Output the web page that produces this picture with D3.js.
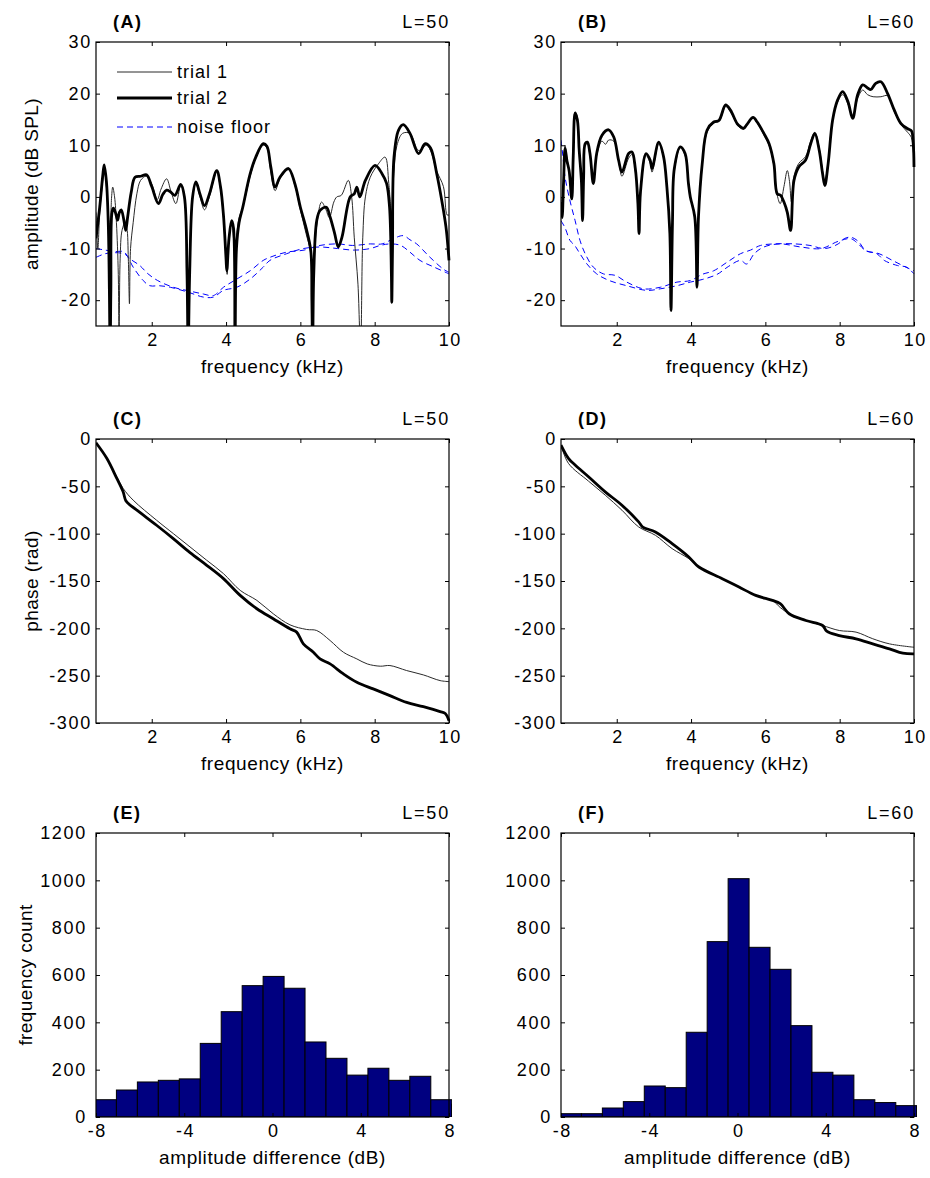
<!DOCTYPE html>
<html><head><meta charset="utf-8">
<script src="https://cdn.jsdelivr.net/npm/d3@7"></script>
<style>body{margin:0;background:#fff} text{font-family:"Liberation Sans",Arial,sans-serif;fill:#000}</style>
</head><body><svg id="c" width="930" height="1178"></svg>
<script>
// ---------- DATA ----------
const freqTicks = [2,4,6,8,10];
const ampTicks = [-20,-10,0,10,20,30];
const phaseTicks = [-300,-250,-200,-150,-100,-50,0];
const diffTicks = [-8,-4,0,4,8];
const countTicks = [0,200,400,600,800,1000,1200];
const legendLabels = ["trial 1","trial 2","noise floor"];

// Panel A (L=50) amplitude [kHz, dB SPL]
const ampA_trial1 = [[0.5,-3],[0.55,-10],[0.6,-3],[0.68,3],[0.72,5.5],[0.78,2],[0.83,-3],[0.88,-6],[0.92,0],[0.95,1.9],[1.0,0],[1.05,-5],[1.1,-15],[1.12,-30],[1.15,-12],[1.2,-6.5],[1.28,-5],[1.33,-6],[1.37,-12],[1.4,-20.7],[1.43,-10],[1.5,-5],[1.6,0.6],[1.7,3.2],[1.85,4],[2.0,2.5],[2.15,-0.5],[2.25,1.5],[2.4,3.5],[2.52,1],[2.65,-1.3],[2.78,2.2],[2.88,0],[2.95,-15],[2.98,-30],[3.02,-15],[3.1,0],[3.19,2.5],[3.3,0],[3.42,-2.5],[3.55,0],[3.75,4.8],[3.85,1.5],[3.93,-4],[4.0,-12],[4.03,-15],[4.08,-8],[4.15,-5],[4.2,-8],[4.24,-14],[4.28,-8],[4.35,-4],[4.45,-2],[4.65,4],[4.8,7.5],[5.0,10],[5.1,9.5],[5.2,5],[5.32,1.2],[5.45,3.5],[5.68,5.3],[5.85,2.3],[6.0,-2.5],[6.15,-7],[6.28,-11],[6.31,-20],[6.33,-30],[6.36,-15],[6.45,-5],[6.57,-1],[6.68,-2.3],[6.78,-4],[6.9,-1],[6.98,0],[7.1,0.3],[7.29,3.2],[7.38,0],[7.45,-7.8],[7.55,-16.9],[7.62,-30],[7.68,-7.8],[7.75,0],[7.88,3.8],[8.1,6.4],[8.28,7.7],[8.38,2.6],[8.45,-3],[8.52,5],[8.6,10],[8.75,12.3],[8.95,12.3],[9.18,9],[9.4,10],[9.5,9],[9.67,5],[9.85,2],[9.95,-3.5],[10,-3.5]];
const ampA_trial2 = [[0.5,-8],[0.6,-2],[0.68,4],[0.72,6.2],[0.78,3],[0.83,-5],[0.86,-18],[0.88,-30],[0.9,-18],[0.93,-3],[0.97,-2.2],[1.03,-3.2],[1.08,-4.5],[1.13,-3],[1.18,-2.5],[1.25,-4.5],[1.3,-6.5],[1.35,-4],[1.45,1],[1.55,3.8],[1.7,4],[1.86,4.3],[2.0,2],[2.18,-1.3],[2.3,0.5],[2.4,1.3],[2.5,1],[2.62,0.3],[2.78,2.4],[2.88,0],[2.95,-15],[2.98,-30],[3.02,-15],[3.1,0],[3.19,2.9],[3.3,0.5],[3.42,-1.7],[3.55,0.5],[3.75,5.1],[3.85,2],[3.93,-3.5],[4.0,-12],[4.02,-14.3],[4.08,-8],[4.15,-4.6],[4.2,-6],[4.24,-30],[4.28,-10],[4.35,-5],[4.45,-2],[4.65,4.5],[4.8,7.7],[5.0,10.3],[5.1,9.8],[5.2,6],[5.32,1.9],[5.45,3.8],[5.68,5.5],[5.85,2.6],[6.0,-2],[6.15,-5.9],[6.28,-10.4],[6.31,-20],[6.33,-30],[6.36,-15],[6.44,-4.6],[6.53,-2.6],[6.7,-2],[6.8,-3.9],[6.92,-7],[7.02,-9.7],[7.12,-7.8],[7.34,0],[7.45,0.6],[7.52,1.9],[7.6,0],[7.75,3.2],[8.01,6.1],[8.19,4.6],[8.32,2.6],[8.4,-2],[8.45,-15],[8.46,-20.4],[8.48,-10],[8.52,7.7],[8.64,12.9],[8.77,14],[8.95,12.3],[9.18,8.4],[9.36,10.3],[9.5,9.5],[9.67,4.5],[9.85,-2.6],[9.93,-6.5],[10,-12.3]];
const noiseA_1 = [[0.5,-10],[0.75,-10.3],[1.0,-10.6],[1.24,-10.6],[1.4,-11.9],[1.68,-13.3],[1.9,-14.9],[2.16,-16.2],[2.58,-17.5],[3.0,-18.2],[3.39,-18.8],[3.66,-19.1],[3.93,-17.5],[4.29,-15.9],[4.65,-14.3],[5.0,-12.3],[5.18,-11.7],[5.63,-10.7],[6.1,-10.3],[6.53,-9.4],[7.0,-9.1],[7.4,-9.4],[7.88,-9.1],[8.2,-9.1],[8.5,-8.1],[8.77,-7.5],[8.95,-8.3],[9.13,-9.1],[9.49,-11.7],[9.85,-14],[10,-14.6]];
const noiseA_2 = [[0.5,-11.7],[0.75,-11],[1.0,-10.8],[1.3,-11.2],[1.5,-13.6],[1.77,-16.2],[1.95,-17.2],[2.2,-17.2],[2.5,-17.5],[3.0,-18.5],[3.39,-19.4],[3.66,-19.4],[3.93,-18.1],[4.29,-17.5],[4.65,-15.9],[5.0,-13.6],[5.18,-12.3],[5.63,-11],[6.08,-10],[6.53,-9.7],[7.0,-10],[7.45,-10.3],[7.88,-10],[8.15,-9.4],[8.42,-9.1],[8.7,-9.4],[8.95,-10.7],[9.22,-12.3],[9.6,-13.6],[10,-14.9]];

// Panel B (L=60) amplitude
const ampB_trial1 = [[0.5,0],[0.53,-3],[0.57,4],[0.61,10],[0.66,7.5],[0.72,5],[0.79,0],[0.83,9],[0.88,16.5],[0.94,15.5],[0.99,9.5],[1.05,3],[1.08,-3],[1.11,5],[1.15,10],[1.21,10.3],[1.28,8],[1.37,3],[1.46,8],[1.6,10.8],[1.7,10.2],[1.78,11],[1.92,10.8],[2.05,7],[2.14,4],[2.32,7.5],[2.41,8.2],[2.5,5],[2.57,-1],[2.6,-6],[2.64,1],[2.79,8],[2.9,6.5],[2.95,4.8],[3.13,10.3],[3.26,7.5],[3.35,1.9],[3.43,-6],[3.46,-20],[3.5,-5],[3.55,5],[3.71,9.5],[3.84,8],[3.93,2.6],[3.98,0],[4.1,-3.5],[4.16,-15],[4.2,-3],[4.3,6.4],[4.43,12.5],[4.61,14.3],[4.75,14.6],[4.93,17.5],[5.06,16.5],[5.24,14],[5.33,13.3],[5.42,13.1],[5.5,13.8],[5.67,15.2],[5.78,14.3],[5.96,12],[6.1,10],[6.23,6],[6.32,0.3],[6.4,-1.3],[6.5,2],[6.59,5.1],[6.65,3],[6.7,-1],[6.77,4],[6.9,6.5],[7.08,7.8],[7.22,10.8],[7.33,12.5],[7.45,9.5],[7.54,5],[7.6,3],[7.69,7],[7.81,15],[7.94,18.3],[8.08,19.8],[8.22,18],[8.35,15.5],[8.48,19],[8.62,20.7],[8.75,19.8],[8.9,19.4],[9.11,19.4],[9.29,19.6],[9.47,16.5],[9.65,14],[9.83,12.5],[9.93,11.5],[9.98,9],[10,6.5]];
const ampB_trial2 = [[0.5,-1],[0.53,-4],[0.57,3],[0.61,9.4],[0.66,7],[0.72,5],[0.79,-0.4],[0.83,8],[0.88,16.2],[0.94,14.9],[0.99,9],[1.05,3],[1.08,-4.6],[1.11,4],[1.15,10.3],[1.21,10.6],[1.28,8.4],[1.37,2.6],[1.46,8.4],[1.6,11.9],[1.78,13.0],[1.92,11.6],[2.05,7.1],[2.14,4.8],[2.32,8.4],[2.41,8.7],[2.5,5.5],[2.57,-1.3],[2.6,-7.1],[2.64,1],[2.79,8.4],[2.9,7.1],[2.95,5.5],[3.13,10.6],[3.26,7.8],[3.35,1.9],[3.43,-7.1],[3.46,-22],[3.5,-5],[3.55,5.5],[3.71,9.7],[3.84,8.4],[3.93,2.6],[3.98,0],[4.1,-3.9],[4.16,-17.5],[4.2,-3.9],[4.3,6.4],[4.43,12.9],[4.61,14.5],[4.75,14.8],[4.93,17.8],[5.06,16.8],[5.24,14.2],[5.33,13.6],[5.42,13.3],[5.5,14],[5.67,15.4],[5.78,14.5],[5.96,12.3],[6.1,10.3],[6.23,6.4],[6.32,0.6],[6.41,0.3],[6.5,-1],[6.59,-3],[6.68,-6.5],[6.77,3.2],[6.9,5.8],[7.08,7.1],[7.22,10.3],[7.33,12.3],[7.45,9],[7.54,4.5],[7.6,2.2],[7.69,6.5],[7.81,14.9],[7.94,18.7],[8.08,20.4],[8.22,18.5],[8.35,15.2],[8.48,19.7],[8.62,21.7],[8.75,21.1],[8.84,20.8],[8.97,22.0],[9.11,22.3],[9.29,20.0],[9.47,16.8],[9.65,14.2],[9.83,13.2],[9.93,12.8],[9.98,10.3],[10,5.8]];
const noiseB_1 = [[0.5,11],[0.55,8],[0.61,3.8],[0.75,-1],[0.88,-4.6],[1.01,-8.4],[1.15,-11],[1.37,-13.6],[1.64,-14.9],[1.96,-15.2],[2.27,-16.5],[2.72,-17.8],[3.17,-17.5],[3.62,-16.5],[3.98,-16.2],[4.3,-15],[4.61,-14.3],[5.0,-12.5],[5.33,-11],[5.6,-10.3],[5.87,-9.4],[6.23,-9.1],[6.8,-9.1],[7.2,-9.4],[7.6,-10],[7.96,-9.1],[8.12,-8.1],[8.3,-7.8],[8.5,-8.6],[8.7,-10.4],[9.0,-11],[9.2,-12.3],[9.56,-13.3],[9.8,-13.6],[10,-14.9]];
const noiseB_2 = [[0.5,-4.6],[0.61,-6],[0.74,-8.4],[0.88,-9.5],[1.01,-11],[1.2,-13],[1.46,-14.9],[1.8,-16.2],[2.27,-17.2],[2.81,-18.1],[3.17,-17.8],[3.62,-17.2],[3.98,-16.5],[4.3,-16],[4.7,-15],[5.0,-13.5],[5.33,-12.3],[5.5,-13],[5.7,-11],[5.96,-9.7],[6.4,-9.1],[6.95,-9.7],[7.5,-10],[7.96,-8.6],[8.3,-8.1],[8.5,-9.1],[8.7,-10.4],[9.06,-11],[9.42,-12.3],[9.78,-13.6],[10,-14.3]];

// Panels C, D phase [kHz, rad]
const phaseC_trial1 = [[0.5,-4],[0.79,-20],[1.06,-40],[1.23,-52.2],[1.5,-64.6],[2.13,-85.8],[2.58,-99.9],[3.03,-114],[3.48,-128.1],[3.93,-142.2],[4.38,-159.9],[4.83,-170.5],[5.27,-184.6],[5.72,-196.3],[6.17,-201.2],[6.44,-202.3],[6.8,-212.9],[7.16,-225.3],[7.52,-232.3],[7.8,-237.6],[8.15,-240],[8.41,-239.3],[8.86,-244.6],[9.31,-249.2],[9.76,-255.2],[10,-256.3]];
const phaseC_trial2 = [[0.5,-4],[0.79,-20.4],[1.06,-41.6],[1.23,-55.8],[1.3,-65],[1.37,-68.1],[1.68,-77.6],[2.13,-91.1],[2.58,-105.2],[3.03,-120],[3.48,-133.4],[3.93,-147.5],[4.38,-165.2],[4.83,-179.3],[5.27,-189.9],[5.72,-200.5],[5.9,-204],[6.08,-216.4],[6.35,-225.3],[6.53,-232.3],[6.8,-237.6],[7.16,-248.2],[7.52,-257],[7.96,-264],[8.41,-271.1],[8.86,-278.2],[9.31,-282.8],[9.76,-288],[9.9,-290],[10,-297.6]];
const phaseD_trial1 = [[0.5,-6.4],[0.7,-25.7],[1.24,-44.5],[1.69,-59.3],[2.14,-75.2],[2.59,-92.9],[3.04,-101.7],[3.49,-115.8],[3.94,-126.4],[4.21,-135.2],[4.84,-147.5],[5.29,-156.4],[5.74,-165.2],[6.19,-170.5],[6.4,-178],[6.64,-184.6],[7.09,-191.7],[7.54,-197],[7.99,-202.3],[8.44,-204],[8.89,-211],[9.34,-216.4],[10,-220]];
const phaseD_trial2 = [[0.5,-6.4],[0.7,-20.4],[0.88,-27.5],[1.24,-39.9],[1.69,-55.8],[2.14,-69.9],[2.59,-87.6],[2.7,-93],[3.04,-98.2],[3.49,-110.5],[3.94,-124.6],[4.21,-135.2],[4.84,-147.5],[5.29,-156.4],[5.74,-165.2],[6.19,-170.5],[6.4,-174],[6.64,-184.6],[7.09,-191.7],[7.54,-197],[7.65,-203],[7.99,-207.6],[8.44,-211.1],[8.89,-216.4],[9.34,-221.7],[9.7,-226.3],[10,-227]];

// Panels E, F histogram of amplitude difference
const binCenters = [-7.55,-6.6,-5.65,-4.7,-3.75,-2.8,-1.85,-0.9,0.05,1.0,1.95,2.9,3.85,4.8,5.75,6.7,7.65,8.6];
const binWidth = 0.95;
const countsE = [73,114,148,155,161,311,445,555,594,544,317,248,177,206,155,172,73,54];
const countsF = [14,14,38,65,131,124,358,741,1007,717,624,386,189,177,73,61,48,45];

// ---------- DRAW ----------
const svg = d3.select("#c");
const W = 353, H = 284;
const colX = [96, 561], rowY = [42, 439, 833];
const FONT = '"Liberation Sans", Arial, sans-serif';
const fmt = d => String(d);   // plain hyphen-minus as in the original

function makePanel(col, row, xDom, yDom, xTicks, yTicks, id, tag, lvl, xLabel, yLabel, yPad) {
  const g = svg.append("g").attr("transform", `translate(${colX[col]},${rowY[row]})`);
  const x = d3.scaleLinear().domain(xDom).range([0, W]);
  const y = d3.scaleLinear().domain(yDom).range([H, 0]);
  svg.append("clipPath").attr("id", id).append("rect").attr("width", W + 3).attr("height", H);
  const plot = g.append("g").attr("clip-path", `url(#${id})`);
  const axes = g.append("g");
  function style(a){
    a.attr("font-size",18).attr("font-family",FONT);
    a.select(".domain").remove();
    a.selectAll("line").attr("stroke","#000");
    a.selectAll("text").style("font-family",FONT).style("letter-spacing","1.7px");
  }
  axes.append("g").attr("transform",`translate(0,${H})`).call(d3.axisBottom(x).tickValues(xTicks).tickSize(-4).tickPadding(7).tickFormat(fmt)).call(style)
    .selectAll("text").attr("dx","0.85px");
  axes.append("g").call(d3.axisTop(x).tickValues(xTicks).tickSize(-4).tickFormat("")).call(style);
  axes.append("g").call(d3.axisLeft(y).tickValues(yTicks).tickSize(-4).tickPadding(yPad).tickFormat(fmt)).call(style);
  axes.append("g").attr("transform",`translate(${W},0)`).call(d3.axisRight(y).tickValues(yTicks).tickSize(-4).tickFormat("")).call(style);
  axes.append("rect").attr("x",0).attr("y",0).attr("width",W).attr("height",H).attr("fill","none").attr("stroke","#000").attr("stroke-width",1.2);
  g.append("text").attr("x",17).attr("y",-14).attr("font-size",18).attr("font-weight","bold").style("letter-spacing","1.5px").text(tag);
  g.append("text").attr("x",W+1).attr("y",-14).attr("font-size",18).attr("text-anchor","end").style("letter-spacing","1.8px").text(lvl);
  g.append("text").attr("x",W/2).attr("y",H+47).attr("font-size",19).attr("text-anchor","middle").style("letter-spacing","0.6px").text(xLabel);
  if (yLabel) {
    g.append("text").attr("transform",`translate(${yLabel.x},${H/2}) rotate(-90)`).attr("font-size",19)
      .attr("text-anchor","middle").style("letter-spacing","0.4px").text(yLabel.t);
  }
  return {g, plot, axes, x, y};
}

function drawLine(p, data, thick, dashed) {
  const line = d3.line().x(d => p.x(d[0])).y(d => p.y(d[1])).curve(d3.curveCatmullRom.alpha(0.5));
  const path = p.plot.append("path").datum(data).attr("d", line).attr("fill","none")
    .attr("stroke-linejoin","round");
  if (dashed) path.attr("stroke","#0000ff").attr("stroke-width",1).attr("stroke-dasharray","6,4");
  else if (thick) path.attr("stroke","#000").attr("stroke-width",2.8);
  else path.attr("stroke","#2a2a2a").attr("stroke-width",1);
}

// Row 1
const pA = makePanel(0,0,[0.5,10],[-25,30],freqTicks,ampTicks,"clipA","(A)","L=50","frequency (kHz)",{x:-58,t:"amplitude (dB SPL)"},4);
drawLine(pA, noiseA_1, false, true);
drawLine(pA, noiseA_2, false, true);
drawLine(pA, ampA_trial1, false, false);
drawLine(pA, ampA_trial2, true, false);
// legend
const lg = pA.g.append("g");
const legY = [30, 56, 85];
[[false,false],[true,false],[false,true]].forEach((s,i) => {
  const ln = lg.append("line").attr("x1",21).attr("x2",76).attr("y1",legY[i]).attr("y2",legY[i]);
  if (s[1]) ln.attr("stroke","#0000ff").attr("stroke-width",1).attr("stroke-dasharray","6,4");
  else if (s[0]) ln.attr("stroke","#000").attr("stroke-width",2.8);
  else ln.attr("stroke","#2a2a2a").attr("stroke-width",1);
  lg.append("text").attr("x",81).attr("y",legY[i]+6).attr("font-size",18).style("letter-spacing","1px").text(legendLabels[i]);
});

const pB = makePanel(1,0,[0.5,10],[-25,30],freqTicks,ampTicks,"clipB","(B)","L=60","frequency (kHz)",null,4);
drawLine(pB, noiseB_1, false, true);
drawLine(pB, noiseB_2, false, true);
drawLine(pB, ampB_trial1, false, false);
drawLine(pB, ampB_trial2, true, false);

// Row 2
const pC = makePanel(0,1,[0.5,10],[-300,0],freqTicks,phaseTicks,"clipC","(C)","L=50","frequency (kHz)",{x:-58,t:"phase (rad)"},4);
drawLine(pC, phaseC_trial1, false, false);
drawLine(pC, phaseC_trial2, true, false);
const pD = makePanel(1,1,[0.5,10],[-300,0],freqTicks,phaseTicks,"clipD","(D)","L=60","frequency (kHz)",null,4);
drawLine(pD, phaseD_trial1, false, false);
drawLine(pD, phaseD_trial2, true, false);

// Row 3
function hist(p, counts) {
  p.plot.selectAll("rect.bar").data(binCenters).enter().append("rect").attr("class","bar")
    .attr("x", d => p.x(d - binWidth/2))
    .attr("width", d => p.x(d + binWidth/2) - p.x(d - binWidth/2))
    .attr("y", (d,i) => p.y(counts[i]))
    .attr("height", (d,i) => p.y(0) - p.y(counts[i]))
    .attr("fill","#000080").attr("stroke","#000").attr("stroke-width",1);
}
const pE = makePanel(0,2,[-8,8],[0,1200],diffTicks,countTicks,"clipE","(E)","L=50","amplitude difference (dB)",{x:-64,t:"frequency count"},9);
hist(pE, countsE);
const pF = makePanel(1,2,[-8,8],[0,1200],diffTicks,countTicks,"clipF","(F)","L=60","amplitude difference (dB)",null,9);
hist(pF, countsF);
</script></body></html>
